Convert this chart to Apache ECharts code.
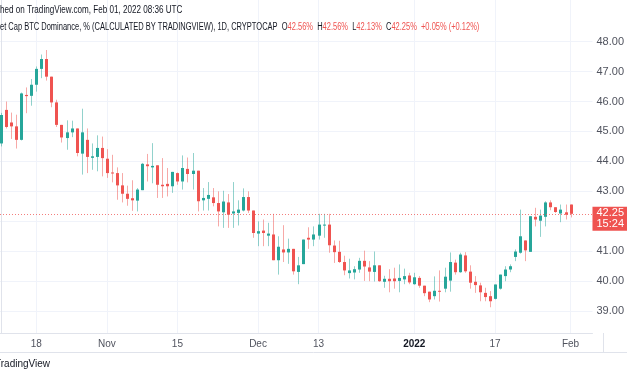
<!DOCTYPE html>
<html>
<head>
<meta charset="utf-8">
<script src="https://cdn.jsdelivr.net/npm/echarts@6/dist/echarts.min.js"></script>
<style>
  html, body { margin: 0; padding: 0; background: #fff; }
  #chart { width: 627px; height: 376px; }
</style>
</head>
<body>
<div id="chart"></div>
<script>
// daily candles, Oct 11 2021 .. Feb 1 2022
var startDate = '2021-10-11';
var opens = [
    44.60, 45.72, 45.30, 45.17, 44.72, 46.22, 46.19, 46.56, 47.09, 47.42,
    46.83, 45.97, 45.22, 44.78, 44.97, 45.10, 44.26, 44.72, 44.12, 44.15,
    44.45, 44.09, 43.63, 43.61, 43.20, 42.92, 42.77, 42.69, 43.04, 43.90,
    43.80, 43.87, 43.22, 43.25, 43.17, 43.61, 43.33, 43.75, 43.58, 43.69,
    42.70, 42.75, 42.80, 42.61, 42.30, 42.63, 42.26, 42.28, 42.36, 42.81,
    42.36, 41.59, 41.69, 41.52, 41.56, 40.70, 41.06, 40.96, 41.08, 40.31,
    40.57, 41.45, 41.39, 41.52, 41.86, 41.89, 41.19, 40.98, 40.64, 40.27,
    40.29, 40.39, 40.68, 40.46, 40.31, 40.53, 39.98, 40.08, 40.09, 40.01,
    40.06, 40.19, 39.90, 40.11, 39.85, 39.65, 39.50, 39.68, 39.75, 40.02,
    40.62, 40.30, 40.86, 40.32, 39.98, 39.86, 39.61, 39.50, 39.41, 39.75,
    40.17, 40.39, 40.81, 40.95, 41.36, 40.98, 42.15, 42.02, 42.15, 42.63,
    42.47, 42.26, 42.30, 42.56
];
var closes = [
    45.55, 45.15, 45.17, 44.72, 46.27, 46.18, 46.56, 47.09, 47.42, 46.83,
    45.97, 45.22, 44.80, 44.97, 45.10, 44.28, 44.97, 44.15, 44.17, 44.45,
    44.11, 43.61, 43.60, 43.20, 42.92, 42.75, 42.70, 43.06, 43.92, 43.84,
    43.85, 43.22, 43.17, 43.17, 43.65, 43.33, 43.78, 43.58, 43.69, 42.67,
    42.78, 42.88, 42.61, 42.33, 42.66, 42.22, 42.33, 42.39, 42.81, 42.36,
    41.61, 41.67, 41.61, 41.59, 40.70, 41.15, 40.96, 41.08, 40.33, 40.53,
    41.39, 41.39, 41.56, 41.89, 41.89, 41.20, 40.97, 40.64, 40.36, 40.36,
    40.40, 40.68, 40.49, 40.32, 40.53, 40.00, 40.08, 40.00, 40.00, 40.11,
    40.17, 39.96, 40.13, 39.85, 39.60, 39.39, 39.68, 39.66, 40.15, 40.64,
    40.30, 40.89, 40.33, 39.95, 39.87, 39.63, 39.47, 39.33, 39.89, 40.22,
    40.39, 40.50, 40.99, 41.50, 41.03, 42.17, 42.06, 42.19, 42.63, 42.47,
    42.31, 42.39, 42.22, 42.25
];
var lows = [
    44.50, 45.10, 44.75, 44.43, 44.70, 45.61, 45.86, 46.33, 46.78, 46.70,
    45.81, 45.15, 44.63, 44.39, 44.81, 44.17, 43.56, 43.61, 43.72, 43.67,
    43.50, 43.45, 43.30, 42.72, 42.63, 42.52, 42.35, 42.33, 43.04, 43.33,
    43.27, 42.78, 42.78, 42.83, 42.95, 43.22, 43.06, 43.30, 43.06, 42.33,
    42.36, 42.36, 42.50, 41.83, 41.78, 41.78, 41.78, 41.86, 42.33, 42.28,
    41.45, 41.17, 41.17, 41.17, 40.70, 40.22, 40.64, 40.58, 40.22, 39.90,
    40.57, 41.08, 41.17, 41.39, 41.45, 40.95, 40.61, 40.61, 40.20, 40.09,
    40.06, 40.28, 40.01, 40.00, 39.99, 39.98, 39.78, 39.63, 39.75, 39.63,
    39.90, 39.90, 39.88, 39.78, 39.50, 39.30, 39.39, 39.32, 39.63, 39.65,
    40.22, 40.28, 40.28, 39.75, 39.61, 39.33, 39.33, 39.13, 39.39, 39.72,
    40.00, 40.30, 40.67, 40.92, 40.67, 40.98, 41.83, 41.48, 41.83, 42.37,
    42.28, 41.97, 42.06, 42.13
];
var highs = [
    45.62, 46.00, 45.63, 45.56, 46.30, 46.47, 46.75, 47.17, 47.57, 47.72,
    46.83, 46.06, 45.22, 45.37, 45.36, 45.10, 45.76, 45.10, 44.60, 44.87,
    44.83, 44.41, 44.22, 43.80, 43.61, 43.19, 43.37, 43.11, 43.95, 44.25,
    44.61, 43.87, 44.11, 43.78, 43.65, 43.63, 44.20, 44.13, 44.28, 43.69,
    43.11, 43.31, 43.11, 43.00, 43.02, 42.91, 43.31, 42.70, 43.10, 43.00,
    42.36, 42.00, 42.06, 41.95, 42.25, 41.50, 41.87, 41.42, 41.08, 40.81,
    41.39, 41.80, 41.83, 42.25, 42.25, 42.25, 41.36, 41.35, 40.85, 40.75,
    40.50, 40.78, 41.02, 40.67, 40.99, 40.53, 40.18, 40.40, 40.45, 40.56,
    40.42, 40.28, 40.28, 40.17, 39.85, 39.65, 40.16, 40.36, 40.45, 40.96,
    40.72, 40.95, 40.97, 40.53, 40.17, 39.95, 39.78, 39.67, 39.89, 40.22,
    40.50, 40.56, 41.06, 42.39, 41.36, 42.17, 42.45, 42.39, 42.67, 42.70,
    42.47, 42.56, 42.56, 42.56
];
var tickDates = ['2021-10-18', '2021-11-01', '2021-11-15', '2021-12-01', '2021-12-13', '2022-01-01', '2022-01-17', '2022-02-01'];
var tickLabels = ['18', 'Nov', '15', 'Dec', '13', '2022', '17', 'Feb'];
var priceTicks = [39, 40, 41, 42, 43, 44, 45, 46, 47, 48];
var lastPrice = 42.25;

var GREEN = '#26a69a', RED = '#ef5350', TEXT = '#131722', AXIS_TEXT = '#50535e', GRID = '#f0f3fa', BORDER = '#e0e3eb';
var FONT = "'Liberation Sans', sans-serif";

var dates = [];
(function () {
    var d = new Date(startDate + 'T00:00:00Z');
    for (var i = 0; i < opens.length; i++) {
        dates.push(d.toISOString().slice(0, 10));
        d.setUTCDate(d.getUTCDate() + 1);
    }
})();

var candles = [];
for (var i = 0; i < opens.length; i++)
    candles.push([i, opens[i], closes[i], lows[i], highs[i]]);

var tickIdx = tickDates.map(function (d) { return dates.indexOf(d); });
function tickText(v) {
    var k = tickIdx.indexOf(Math.round(v));
    return k > -1 ? tickLabels[k] : '';
}

function renderCandle(params, api) {
    var o = api.value(1), c = api.value(2);
    var pO = api.coord([api.value(0), o]),
        pC = api.coord([api.value(0), c]),
        pL = api.coord([api.value(0), api.value(3)]),
        pH = api.coord([api.value(0), api.value(4)]);
    var color = c >= o ? GREEN : RED;
    var x = Math.round(pO[0]);
    var top = Math.min(pO[1], pC[1]);
    var h = Math.max(Math.abs(pO[1] - pC[1]), 1);
    return {
        type: 'group',
        children: [
            { type: 'line', shape: { x1: x + 0.5, y1: pH[1], x2: x + 0.5, y2: pL[1] },
              style: { stroke: color, lineWidth: 1, opacity: 0.5 } },
            { type: 'rect', shape: { x: x - 1, y: top, width: 3, height: h },
              style: { fill: color } }
        ]
    };
}

var chart = echarts.init(document.getElementById('chart'));
chart.setOption({
    animation: false,
    textStyle: { fontFamily: FONT },
    grid: { left: 0, right: 24, top: 0, bottom: 43 },
    xAxis: {
        type: 'value',
        min: -0.195,
        max: 117.35,
        axisLine: { show: true, lineStyle: { color: BORDER } },
        axisTick: { show: false, customValues: tickIdx },
        axisLabel: {
            customValues: tickIdx,
            color: AXIS_TEXT,
            fontSize: 10,
            fontFamily: FONT,
            margin: 6,
            formatter: function (v) {
                var t = tickText(v);
                return t === '2022' ? '{b|' + t + '}' : t;
            },
            rich: { b: { fontWeight: 'bold', fontSize: 10, color: TEXT, fontFamily: FONT } }
        },
        splitLine: { show: true, lineStyle: { color: GRID } }
    },
    yAxis: {
        type: 'value',
        position: 'right',
        min: 38.27,
        max: 49.39,
        axisLine: { show: true, lineStyle: { color: BORDER } },
        axisTick: { show: false, customValues: priceTicks },
        axisLabel: {
            customValues: priceTicks,
            color: AXIS_TEXT,
            fontSize: 11,
            fontFamily: FONT,
            margin: 4,
            formatter: function (v) { return v.toFixed(2); }
        },
        splitLine: { show: true, lineStyle: { color: GRID } }
    },
    series: [{
        type: 'custom',
        renderItem: renderCandle,
        encode: { x: 0, y: [1, 2, 3, 4] },
        data: candles,
        clip: true,
        markLine: {
            silent: true,
            symbol: 'none',
            lineStyle: { color: 'rgba(239,83,80,0.75)', type: [1, 2], width: 1 },
            label: {
                show: true,
                position: 'end',
                distance: 0,
                formatter: lastPrice.toFixed(2) + '\n15:24',
                color: '#fff',
                backgroundColor: RED,
                fontSize: 11,
                fontFamily: FONT,
                lineHeight: 11,
                padding: [1, 4, 1, 4],
                offset: [0, 5],
                align: 'left'
            },
            data: [{ yAxis: lastPrice }]
        }
    }],
    graphic: [
        { type: 'text', x: 0, y: 5, z: 10, scaleX: 0.81, style: {
            text: 'hed on TradingView.com, Feb 01, 2022 08:36 UTC',
            font: '10px ' + FONT, fill: TEXT } },
        { type: 'text', x: 0, y: 22, z: 10, scaleX: 0.75, style: {
            text: '{t|et Cap BTC Dominance, % (CALCULATED BY TRADINGVIEW), 1D, CRYPTOCAP  O}{r|42.56%}{t|  H}{r|42.56%}{t|  L}{r|42.13%}{t|  C}{r|42.25%}{r|  +0.05% (+0.12%)}',
            rich: {
                t: { font: '10px ' + FONT, fill: TEXT },
                r: { font: '10px ' + FONT, fill: RED }
            } } },
        { type: 'line', shape: { x1: 0, y1: 352.5, x2: 627, y2: 352.5 }, style: { stroke: BORDER, lineWidth: 1 } },
        { type: 'line', shape: { x1: 603.5, y1: 333, x2: 603.5, y2: 352 }, style: { stroke: BORDER, lineWidth: 1 } },
        { type: 'text', x: -5, y: 359, style: { text: 'TradingView', font: '10px ' + FONT, fill: TEXT } }
    ]
});
</script>
</body>
</html>
